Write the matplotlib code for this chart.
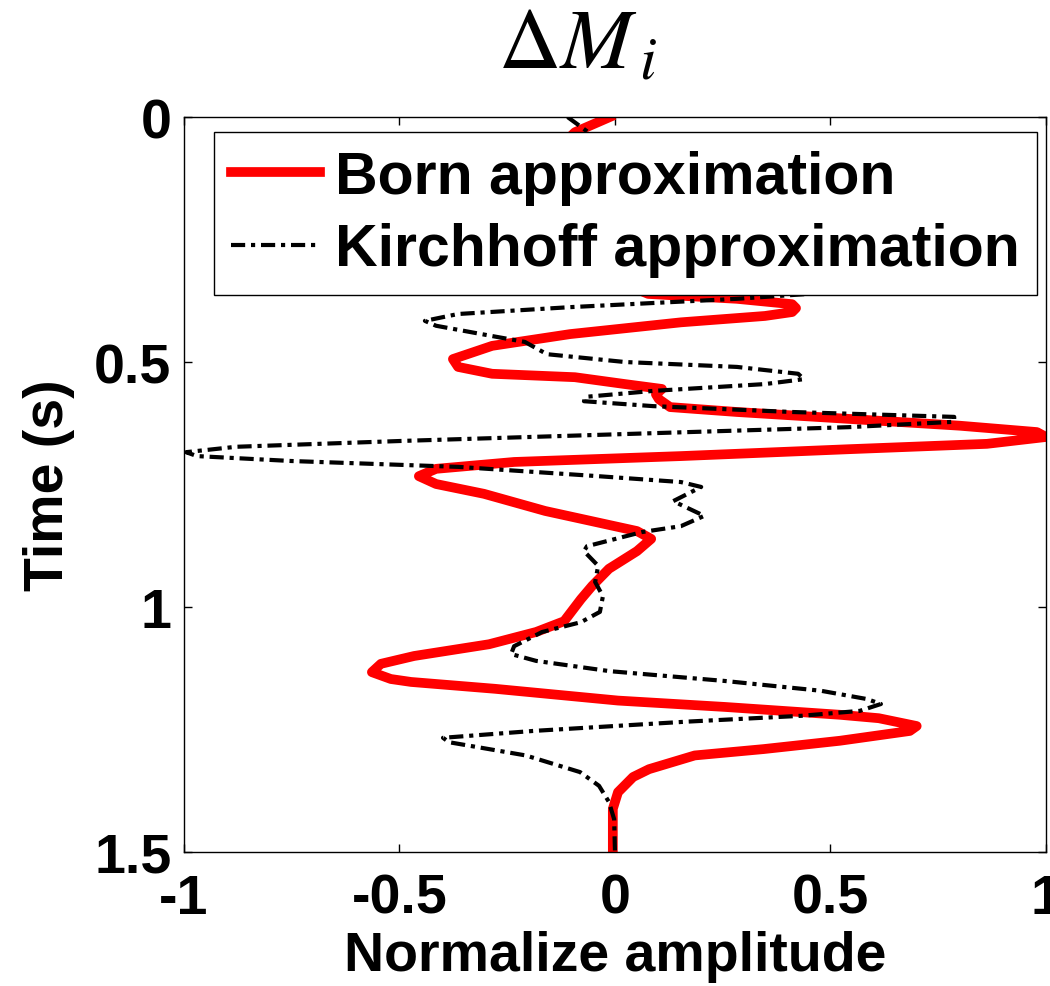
import matplotlib
matplotlib.use('Agg')
import matplotlib.pyplot as plt
import numpy as np

matplotlib.rcParams['font.family'] = ['Liberation Sans', 'DejaVu Sans']
matplotlib.rcParams['mathtext.fontset'] = 'stix'
matplotlib.rcParams['axes.unicode_minus'] = False

fontsize = 40

# Born approximation (red), time (s) vs normalized amplitude
born_t = [0.000, 0.031, 0.08, 0.15, 0.22, 0.29, 0.34, 0.361, 0.371, 0.382,
          0.390, 0.398, 0.406, 0.419, 0.443, 0.467, 0.494, 0.510, 0.524, 0.531,
          0.545, 0.555, 0.566, 0.576, 0.592, 0.602, 0.616, 0.630, 0.643, 0.653,
          0.667, 0.678, 0.692, 0.704, 0.718, 0.733, 0.749, 0.769, 0.804, 0.845,
          0.861, 0.886, 0.922, 0.957, 0.984, 1.029, 1.051, 1.076, 1.100, 1.116,
          1.133, 1.147, 1.153, 1.167, 1.191, 1.204, 1.220, 1.227, 1.243, 1.253,
          1.273, 1.290, 1.303, 1.331, 1.347, 1.378, 1.412, 1.500]
born_a = [-0.012, -0.093, -0.15, -0.12, -0.05, -0.02, 0.02, 0.077, 0.283, 0.411,
          0.42, 0.411, 0.348, 0.153, -0.104, -0.285, -0.376, -0.364, -0.285, -0.093,
          0.023, 0.109, 0.095, 0.102, 0.128, 0.283, 0.541, 0.800, 0.979, 1.0,
          0.863, 0.541, 0.153, -0.234, -0.415, -0.455, -0.415, -0.304, -0.162, 0.051,
          0.084, 0.051, -0.014, -0.053, -0.079, -0.118, -0.183, -0.292, -0.466, -0.543,
          -0.564, -0.52, -0.473, -0.278, 0.007, 0.255, 0.522, 0.612, 0.700, 0.684,
          0.522, 0.345, 0.185, 0.079, 0.042, 0.007, -0.005, -0.005]

# Kirchhoff approximation (black dash-dot)
kirch_t = [0.000, 0.029, 0.08, 0.15, 0.22, 0.29, 0.34, 0.357, 0.371, 0.388,
           0.402, 0.416, 0.426, 0.447, 0.459, 0.484, 0.500, 0.510, 0.524, 0.535,
           0.545, 0.559, 0.571, 0.580, 0.590, 0.602, 0.612, 0.622, 0.633, 0.647,
           0.661, 0.673, 0.684, 0.692, 0.702, 0.714, 0.733, 0.745, 0.755, 0.784,
           0.814, 0.835, 0.847, 0.876, 0.886, 0.916, 0.949, 0.978, 1.010, 1.031,
           1.051, 1.080, 1.096, 1.110, 1.131, 1.151, 1.171, 1.188, 1.198, 1.212,
           1.222, 1.234, 1.253, 1.267, 1.276, 1.303, 1.337, 1.365, 1.398, 1.433,
           1.500]
kirch_a = [-0.11, -0.065, 0.0, 0.1, 0.25, 0.45, 0.56, 0.515, 0.283, -0.104,
           -0.364, -0.441, -0.415, -0.285, -0.209, -0.158, 0.023, 0.283, 0.425, 0.438,
           0.348, 0.088, -0.067, -0.072, 0.088, 0.411, 0.787, 0.787, 0.541, 0.023,
           -0.492, -0.879, -0.995, -0.970, -0.752, -0.364, -0.039, 0.153, 0.200, 0.135,
           0.207, 0.153, 0.063, -0.065, -0.072, -0.039, -0.046, -0.028, -0.035, -0.079,
           -0.169, -0.234, -0.241, -0.183, -0.012, 0.255, 0.478, 0.585, 0.617, 0.568,
           0.434, 0.167, -0.190, -0.399, -0.385, -0.207, -0.081, -0.037, -0.014, -0.002,
           0.0]

xticks = [-1, -0.5, 0, 0.5, 1]
xticklabels = ['-1', '-0.5', '0', '0.5', '1']
yticks = [0, 0.5, 1, 1.5]
yticklabels = ['0', '0.5', '1', '1.5']

fig = plt.figure(figsize=(10.5, 9.87), dpi=100)
ax = fig.add_axes([0.1752, 0.1358, 0.8210, 0.7446])

ax.plot(born_a, born_t, color='red', linewidth=7, solid_joinstyle='round',
        label='Born approximation')
ax.plot(kirch_a, kirch_t, color='black', linewidth=3,
        linestyle=(0, (3.4, 1.4, 1.0, 1.4)), label='Kirchhoff approximation')

ax.set_xlim(-1, 1)
ax.set_ylim(1.5, 0)
ax.set_xticks(xticks)
ax.set_xticklabels(xticklabels, fontsize=fontsize, fontweight='bold')
ax.set_yticks(yticks)
ax.set_yticklabels(yticklabels, fontsize=fontsize, fontweight='bold')
ax.tick_params(axis='x', pad=15)
ax.tick_params(axis='y', pad=9)
ax.tick_params(direction='in', length=6, width=1, top=True, right=True)
for s in ax.spines.values():
    s.set_linewidth(1)

ax.set_xlabel('Normalize amplitude', fontsize=fontsize, fontweight='bold', labelpad=4)
ax.set_ylabel('Time (s)', fontsize=fontsize, fontweight='bold', labelpad=14)

leg = ax.legend(loc='upper right', bbox_to_anchor=(0.9896, 0.9796), borderaxespad=0,
                prop={'weight': 'bold', 'size': 42.5},
                handlelength=1.5, handletextpad=0.25, borderpad=0.3,
                labelspacing=0.3, fancybox=False, framealpha=1)
leg.get_frame().set_edgecolor('black')
leg.get_frame().set_linewidth(1)

fig.text(0.55, 0.931, r'$\Delta M_{\,i}$', fontsize=62, ha='center', va='baseline')

fig.savefig('out.png', dpi=100)
